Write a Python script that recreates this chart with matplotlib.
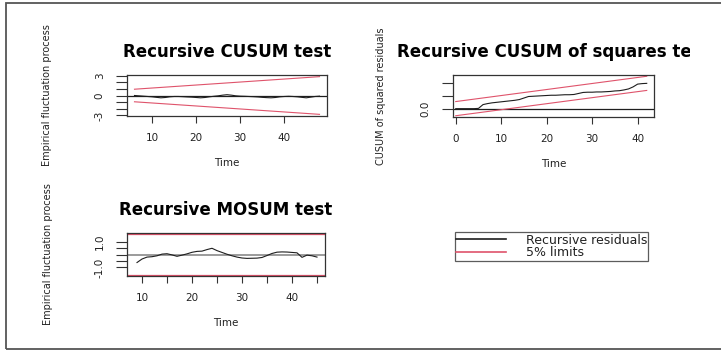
import matplotlib
matplotlib.use('Agg')
import matplotlib.pyplot as plt
from matplotlib.lines import Line2D
from matplotlib.patches import Rectangle
from matplotlib.transforms import Bbox, TransformedBbox

plt.rcParams['font.family'] = ['DejaVu Sans']

LINE_COLOR = '#1e1e1e'
LIMIT_COLOR = '#df536b'
FRAME_COLOR = '#333333'
TEXT_COLOR = '#222222'

# Recursive CUSUM test
cusum_time = list(range(6, 49))
cusum_values = [0.0, -0.05, -0.1, -0.15, -0.2, -0.28, -0.35, -0.3, -0.2, -0.15,
                -0.15, -0.18, -0.22, -0.25, -0.3, -0.35, -0.3, -0.2, -0.12, -0.05,
                0.05, 0.12, 0.05, -0.05, -0.1, -0.12, -0.15, -0.18, -0.22, -0.28,
                -0.32, -0.35, -0.3, -0.2, -0.15, -0.12, -0.15, -0.2, -0.28, -0.35,
                -0.25, -0.15, -0.1]
cusum_limit_time = [6, 48]
cusum_limit = [0.95, 2.85]
cusum_xticks = [10, 20, 30, 40]
cusum_xticklabels = ['10', '20', '30', '40']
cusum_yticks = [-3, -2, -1, 0, 1, 2, 3]
cusum_yticklabels = ['-3', '', '', '0', '', '', '3']

# Recursive CUSUM of squares test
sq_time = list(range(0, 43))
sq_values = [0.0, 0.0, 0.0, 0.0, 0.0, 0.01, 0.16, 0.2, 0.23, 0.25,
             0.27, 0.29, 0.31, 0.33, 0.36, 0.42, 0.48, 0.49, 0.5, 0.51,
             0.52, 0.53, 0.53, 0.54, 0.55, 0.55, 0.56, 0.6, 0.64, 0.65,
             0.65, 0.66, 0.66, 0.67, 0.68, 0.7, 0.71, 0.74, 0.78, 0.86,
             0.97, 0.99, 1.0]
sq_limit_time = [0, 42]
sq_upper = [0.28, 1.28]
sq_lower = [-0.28, 0.72]
sq_xticks = [0, 10, 20, 30, 40]
sq_xticklabels = ['0', '10', '20', '30', '40']
sq_yticks = [0.0, 0.5, 1.0]
sq_yticklabels = ['0.0', '', '']

# Recursive MOSUM test
mosum_time = list(range(9, 46))
mosum_values = [-0.62, -0.35, -0.2, -0.17, -0.1, 0.03, 0.06, -0.03, -0.14, -0.05,
                0.05, 0.17, 0.24, 0.26, 0.38, 0.48, 0.3, 0.16, 0.02, -0.1,
                -0.2, -0.27, -0.3, -0.29, -0.28, -0.23, -0.08, 0.08, 0.18, 0.2,
                0.19, 0.16, 0.13, -0.22, -0.05, -0.1, -0.2]
mosum_limit = 1.6
mosum_xticks = [10, 15, 20, 25, 30, 35, 40, 45]
mosum_xticklabels = ['10', '', '20', '', '30', '', '40', '']
mosum_yticks = [-1.0, -0.5, 0.0, 0.5, 1.0]
mosum_yticklabels = ['-1.0', '', '', '', '1.0']

legend_labels = ['Recursive residuals', '5% limits']

W, H = 721, 351
fig = plt.figure(figsize=(W / 100, H / 100), dpi=100)
fig.patch.set_facecolor('white')


def px_axes(left, top, right, bottom):
    return fig.add_axes([left / W, 1 - bottom / H, (right - left) / W, (bottom - top) / H])


def style_axes(ax, xticks, xlabels, yticks, ylabels, ylabel, ylabel_x):
    ax.set_xticks(xticks)
    ax.set_xticklabels(xlabels)
    ax.set_yticks(yticks)
    ax.set_yticklabels(ylabels, rotation=90, va='center')
    ax.tick_params(axis='x', length=5, width=0.8, pad=7, labelsize=7.5,
                   colors=FRAME_COLOR, labelcolor=TEXT_COLOR)
    ax.tick_params(axis='y', length=8, width=0.8, pad=8, labelsize=7.5,
                   colors=FRAME_COLOR, labelcolor=TEXT_COLOR)
    for spine in ax.spines.values():
        spine.set_color(FRAME_COLOR)
        spine.set_linewidth(0.9)
    ax.set_xlabel('Time', fontsize=7.5, color=TEXT_COLOR, labelpad=11)
    ax.set_ylabel(ylabel, fontsize=7, color=TEXT_COLOR, va='center')
    ax.yaxis.set_label_coords(ylabel_x, 0.5)


# Panel 1
ax1 = px_axes(127, 75, 327, 116)
ax1.axhline(0, color=LINE_COLOR, lw=0.9)
ax1.plot(cusum_time, cusum_values, color=LINE_COLOR, lw=0.8)
ax1.plot(cusum_limit_time, cusum_limit, color=LIMIT_COLOR, lw=0.8)
ax1.plot(cusum_limit_time, [-v for v in cusum_limit], color=LIMIT_COLOR, lw=0.8)
ax1.set_xlim(4.3, 49.7)
ax1.set_ylim(-3.1, 3.1)
style_axes(ax1, cusum_xticks, cusum_xticklabels, cusum_yticks, cusum_yticklabels,
           'Empirical fluctuation process', -0.4)
ax1.set_title('Recursive CUSUM test', fontsize=12, fontweight='bold', pad=13)

# Panel 2
ax2 = px_axes(453, 75, 654, 117)
ax2.axhline(0, color=LINE_COLOR, lw=0.9)
ax2.plot(sq_time, sq_values, color=LINE_COLOR, lw=0.8)
ax2.plot(sq_limit_time, sq_upper, color=LIMIT_COLOR, lw=0.8)
ax2.plot(sq_limit_time, sq_lower, color=LIMIT_COLOR, lw=0.8)
ax2.set_xlim(-0.6, 43.6)
ax2.set_ylim(-0.33, 1.33)
style_axes(ax2, sq_xticks, sq_xticklabels, sq_yticks, sq_yticklabels,
           'CUSUM of squared residuals', -0.36)
t2 = ax2.set_title('Recursive CUSUM of squares test', fontsize=12, fontweight='bold', pad=13)
t2.set_clip_box(TransformedBbox(Bbox([[0, 0], [690 / W, 1]]), fig.transFigure))
t2.set_clip_on(True)

# Panel 3
ax3 = px_axes(127, 233, 325, 276)
ax3.axhline(0, color='#8a8a8a', lw=1.2)
ax3.plot(mosum_time, mosum_values, color=LINE_COLOR, lw=0.8)
ax3.axhline(mosum_limit, color=LIMIT_COLOR, lw=0.9)
ax3.axhline(-mosum_limit, color=LIMIT_COLOR, lw=0.9)
ax3.set_xlim(7.0, 46.6)
ax3.set_ylim(-1.66, 1.66)
style_axes(ax3, mosum_xticks, mosum_xticklabels, mosum_yticks, mosum_yticklabels,
           'Empirical fluctuation process', -0.4)
ax3.set_title('Recursive MOSUM test', fontsize=12, fontweight='bold', pad=13)

# Legend panel
ax4 = px_axes(420, 200, 700, 300)
ax4.axis('off')
handles = [Line2D([], [], color=LINE_COLOR, lw=1.2),
           Line2D([], [], color=LIMIT_COLOR, lw=1.2)]
leg = ax4.legend(handles, legend_labels, loc='center',
                 bbox_to_anchor=(551.5 / W, 1 - 246.5 / H), bbox_transform=fig.transFigure,
                 fontsize=9, labelspacing=0.0, handlelength=4.0, handletextpad=1.6,
                 borderpad=0.1, fancybox=False, frameon=True)
leg.get_frame().set_edgecolor(FRAME_COLOR)
leg.get_frame().set_linewidth(0.9)
for txt in leg.get_texts():
    txt.set_color(TEXT_COLOR)

# Screenshot frame
fig.add_artist(Rectangle((6 / W, 2 / H), 1.0, (H - 5) / H, transform=fig.transFigure,
                         fill=False, edgecolor='#555555', linewidth=1.3))

fig.savefig('out.png', dpi=100, facecolor='white')
plt.close(fig)
